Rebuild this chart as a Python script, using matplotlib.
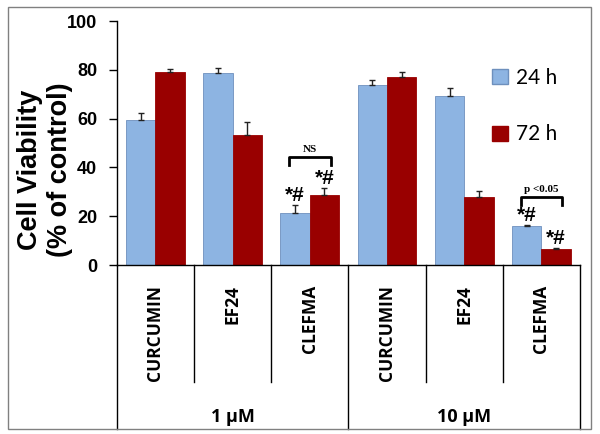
import numpy as np
import matplotlib
matplotlib.use('Agg')
import matplotlib.pyplot as plt
import matplotlib.patches as mpatches

# --- data ---
categories = ['CURCUMIN', 'EF24', 'CLEFMA', 'CURCUMIN', 'EF24', 'CLEFMA']
groups = ['1 \u00b5M', '10 \u00b5M']
viab_24h = [59.4, 78.6, 21.2, 73.8, 69.1, 16.0]
viab_72h = [79.0, 53.3, 28.7, 76.9, 27.7, 6.7]
err_24h = [2.8, 2.3, 3.4, 2.0, 3.5, 0.3]
err_72h = [1.2, 5.4, 3.0, 2.0, 2.7, 0.3]
sig_24h = ['', '', '*#', '', '', '*#']
sig_72h = ['', '', '*#', '', '', '*#']
yticks = [0, 20, 40, 60, 80, 100]

blue = '#8DB4E2'
red = '#990000'

fig = plt.figure(figsize=(6, 4.34), dpi=100)
ax = fig.add_axes([116.7 / 600, 1 - 265 / 434, (580 - 116.7) / 600, 244 / 434])

x = np.arange(len(categories))
w = 0.38
ax.bar(x - w / 2, viab_24h, w, color=blue, edgecolor='#6E90BD', linewidth=0.6,
       yerr=[np.zeros(6), err_24h], error_kw=dict(ecolor='#222222', elinewidth=1, capsize=2, capthick=1))
ax.bar(x + w / 2, viab_72h, w, color=red, edgecolor=red, linewidth=0.6,
       yerr=[np.zeros(6), err_72h], error_kw=dict(ecolor='#222222', elinewidth=1, capsize=2, capthick=1))

ax.set_xlim(-0.5, 5.5)
ax.set_ylim(0, 100)
ax.set_yticks(yticks)
ax.set_yticklabels([str(t) for t in yticks], fontsize=13, fontweight='bold', family='Liberation Sans')
ax.tick_params(axis='y', direction='out', length=6, width=1, pad=8)
ax.set_xticks([])
for s in ['top', 'right']:
    ax.spines[s].set_visible(False)
for s in ['left', 'bottom']:
    ax.spines[s].set_linewidth(1)

# significance marks
for i in range(6):
    if sig_24h[i]:
        ax.text(x[i] - w / 2, viab_24h[i] + err_24h[i] + 3.8, sig_24h[i], ha='center', va='center',
                fontsize=15, fontweight='bold', family='Liberation Sans')
    if sig_72h[i]:
        ax.text(x[i] + w / 2, viab_72h[i] + err_72h[i] + 3.8, sig_72h[i], ha='center', va='center',
                fontsize=15, fontweight='bold', family='Liberation Sans')

# brackets
def bracket(xc, top, label):
    x0, x1 = xc - 0.27, xc + 0.27
    ax.plot([x0, x0, x1, x1], [top - 3.3, top, top, top - 3.3], color='black', lw=2)
    ax.text(xc, top + 1.2, label, ha='center', va='bottom', fontsize=8, fontweight='bold',
            family='Liberation Serif')

bracket(2, 44.3, 'NS')
bracket(5, 27.9, 'p <0.05')

# table-like category axis below
tr = ax.get_xaxis_transform()
for b in [0.5, 1.5, 3.5, 4.5]:
    ax.plot([b, b], [0, -0.478], color='black', lw=1, transform=tr, clip_on=False)
for b in [-0.5, 2.5, 5.5]:
    ax.plot([b, b], [0, -0.672], color='black', lw=1, transform=tr, clip_on=False)
for i, c in enumerate(categories):
    ax.text(i, -0.082, c, rotation=90, ha='center', va='top', fontsize=12.5, fontweight='bold',
            family='Open Sans', transform=tr)
for g, xc in zip(groups, [1, 4]):
    ax.text(xc, -0.623, g, ha='center', va='center', fontsize=13, fontweight='bold',
            family='Open Sans', transform=tr)

fig.text(45 / 600, 1 - 170 / 434, 'Cell Viability\n(% of control)', rotation=90, ha='center',
         va='center', fontsize=19.5, fontweight='bold', family='Liberation Sans',
         multialignment='center', linespacing=1.2)

handles = [mpatches.Patch(facecolor=blue, edgecolor='#6E90BD', label='24 h'),
           mpatches.Patch(facecolor=red, edgecolor=red, label='72 h')]
fig.legend(handles=handles, loc='upper left', bbox_to_anchor=(492 / 600, 1 - 68 / 434),
           frameon=False, prop={'family': 'Lato', 'size': 15}, handlelength=0.75,
           handleheight=0.75, handletextpad=0.4, labelspacing=1.75, borderpad=0, borderaxespad=0)

fig.patches.append(mpatches.Rectangle((8 / 600, 1 - 429 / 434), 583 / 600, 422 / 434,
                                      transform=fig.transFigure, fill=False,
                                      edgecolor='#808080', lw=1))

fig.savefig('out.png', dpi=100)
